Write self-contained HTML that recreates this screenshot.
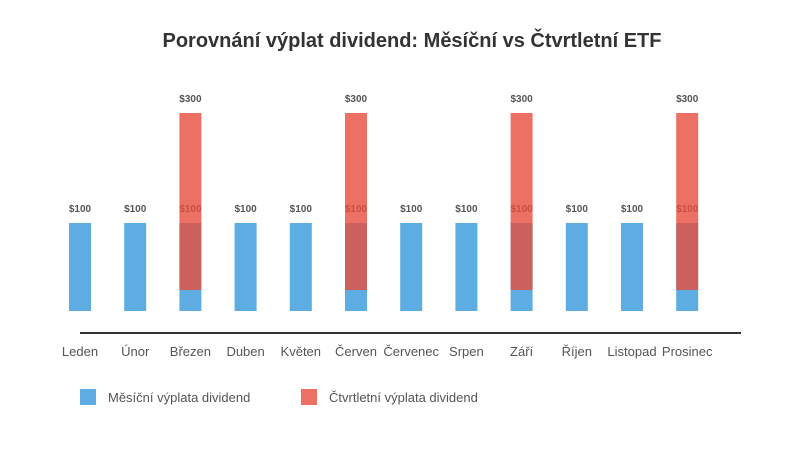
<!DOCTYPE html>
<html><head><meta charset="utf-8"><style>
body{margin:0;background:#fff;}
svg{display:block;font-family:"Liberation Sans",sans-serif;}
</style></head><body>
<svg id="chart" width="795" height="456">
<text x="412" y="47" text-anchor="middle" font-size="20" font-weight="bold" fill="#333">Porovnání výplat dividend: Měsíční vs Čtvrtletní ETF</text>
<g id="bars"></g>
<line x1="80" y1="333" x2="741" y2="333" stroke="#333" stroke-width="2"/>
<g id="xlabels"></g>
<g>
<rect x="80" y="389" width="16" height="16" fill="#5dade2"/>
<text x="108" y="402" font-size="13" fill="#555">Měsíční výplata dividend</text>
<rect x="301" y="389" width="16" height="16" fill="#e74c3c" opacity="0.8"/>
<text x="329" y="402" font-size="13" fill="#555">Čtvrtletní výplata dividend</text>
</g>
</svg>
<script>
const months = ["Leden","Únor","Březen","Duben","Květen","Červen","Červenec","Srpen","Září","Říjen","Listopad","Prosinec"];
const monthly = [100,100,100,100,100,100,100,100,100,100,100,100];
const quarterly = [0,0,300,0,0,300,0,0,300,0,0,300];
const NS="http://www.w3.org/2000/svg";
const x0=80, step=55.2, bw=22;
const xc=i=>x0+i*step;
const yBlue=v=>311-v*0.88;
const yRed=v=>290-v*0.59;
const bars=document.getElementById('bars'), xl=document.getElementById('xlabels');
function mk(t,a){const e=document.createElementNS(NS,t);for(const k in a)e.setAttribute(k,a[k]);return e;}
months.forEach((m,i)=>{
  const b=mk('rect',{x:xc(i)-bw/2,y:yBlue(monthly[i]),width:bw,height:311-yBlue(monthly[i]),fill:'#5dade2'});
  
  
  bars.appendChild(b);
  const t=mk('text',{x:xc(i),y:yBlue(monthly[i])-11,'text-anchor':'middle','font-size':'10','font-weight':'bold',fill:'#555'});
  t.textContent='$'+monthly[i];
  
  
  bars.appendChild(t);
  const l=mk('text',{x:xc(i),y:356,'text-anchor':'middle','font-size':'13',fill:'#555'});
  l.textContent=m;
  
  
  xl.appendChild(l);
});
months.forEach((m,i)=>{
  if(!quarterly[i])return;
  const r=mk('rect',{x:xc(i)-bw/2,y:yRed(quarterly[i]),width:bw,height:290-yRed(quarterly[i]),fill:'#e74c3c',opacity:'0.8'});
  
  
  bars.appendChild(r);
  const t=mk('text',{x:xc(i),y:yRed(quarterly[i])-11,'text-anchor':'middle','font-size':'10','font-weight':'bold',fill:'#555'});
  t.textContent='$'+quarterly[i];
  
  
  bars.appendChild(t);
});
</script>
</body></html>
